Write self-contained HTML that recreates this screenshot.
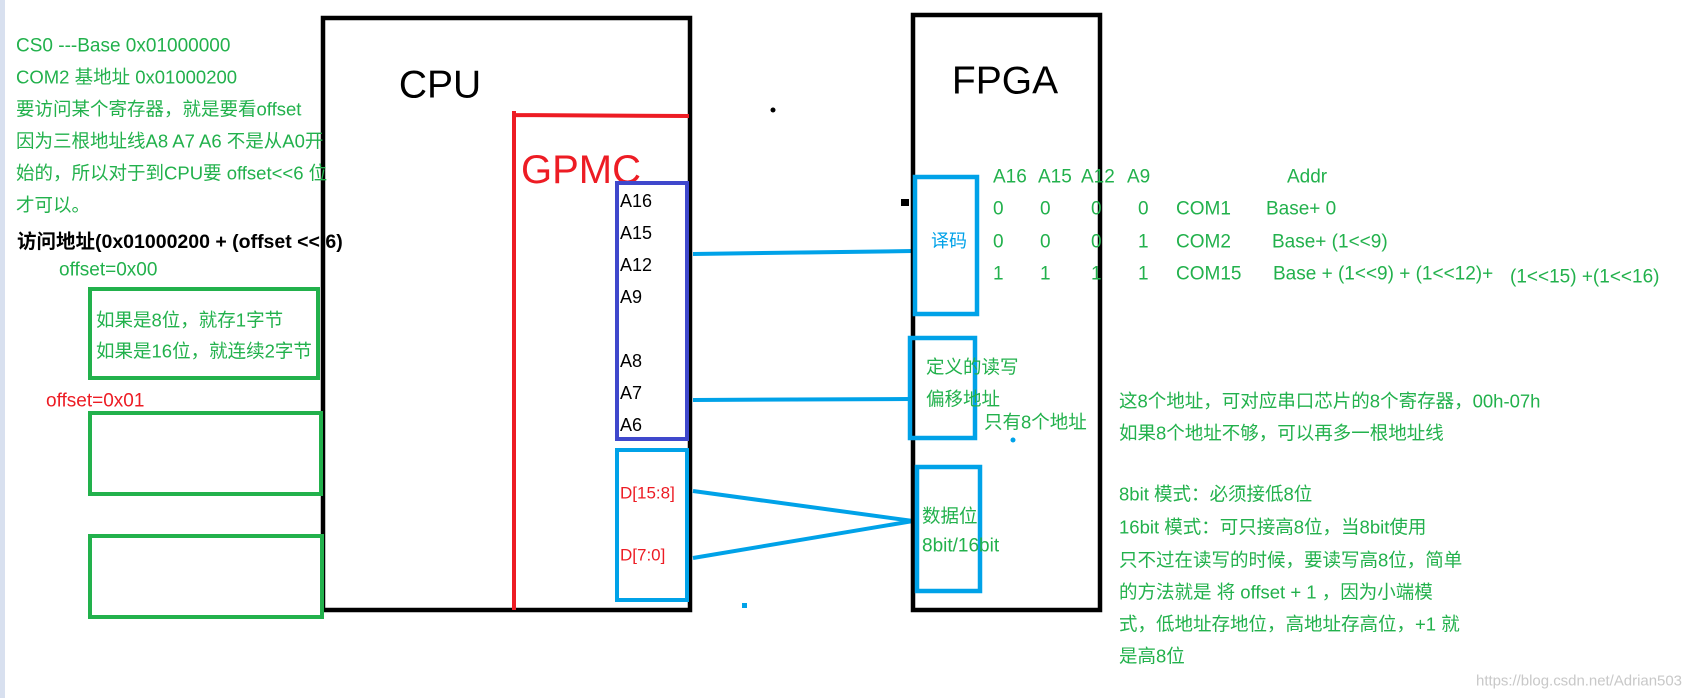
<!DOCTYPE html>
<html><head><meta charset="utf-8"><style>
html,body{margin:0;padding:0;background:#fff;}
svg{display:block;}
text{font-family:"Liberation Sans","Noto Sans CJK SC",sans-serif;dominant-baseline:central;}
.g{fill:#22b14c;font-size:18.5px;}
.gl{fill:#22b14c;font-size:19px;}
.k{fill:#000;font-size:18px;}
.r{fill:#ed1c24;font-size:17px;}
</style></head><body>
<svg width="1692" height="698" viewBox="0 0 1692 698" xmlns="http://www.w3.org/2000/svg">
<rect x="0" y="0" width="5" height="698" fill="#d8e0ef"/>
<rect x="323" y="18" width="367" height="592" fill="none" stroke="#000" stroke-width="4.5"/>
<text x="440" y="85" font-size="39" text-anchor="middle" fill="#000">CPU</text>
<path d="M514 111 L514 610 M514 115 L689 116" stroke="#ed1c24" stroke-width="4" fill="none"/>
<text x="521" y="170" font-size="40" fill="#ed1c24">GPMC</text>
<rect x="617" y="183" width="70" height="256" fill="none" stroke="#3f48cc" stroke-width="4"/>
<text class="k" x="620" y="201">A16</text>
<text class="k" x="620" y="233">A15</text>
<text class="k" x="620" y="265">A12</text>
<text class="k" x="620" y="297">A9</text>
<text class="k" x="620" y="361">A8</text>
<text class="k" x="620" y="393">A7</text>
<text class="k" x="620" y="425">A6</text>
<rect x="617" y="450" width="70" height="150" fill="none" stroke="#00a2e8" stroke-width="4"/>
<text class="r" x="620" y="493">D[15:8]</text>
<text class="r" x="620" y="555">D[7:0]</text>
<g stroke="#00a2e8" stroke-width="4" fill="none">
<path d="M693 254 L913 251"/>
<path d="M693 400 L911 399"/>
<path d="M693 491 L913 521"/>
<path d="M693 558 L913 521"/>
</g>
<rect x="742" y="603" width="5" height="5" fill="#00a2e8"/>
<circle cx="773" cy="110" r="2.5" fill="#000"/>
<rect x="913" y="15" width="187" height="595" fill="none" stroke="#000" stroke-width="4.5"/>
<rect x="901" y="199" width="8" height="7" fill="#000"/>
<text x="1005" y="81" font-size="39" text-anchor="middle" fill="#000">FPGA</text>
<rect x="915" y="177" width="62" height="137" fill="none" stroke="#00a2e8" stroke-width="4.5"/>
<text x="949" y="241" font-size="18" fill="#00a2e8" text-anchor="middle">译码</text>
<rect x="910" y="338" width="65" height="100" fill="none" stroke="#00a2e8" stroke-width="4.5"/>
<text class="g" x="926" y="367">定义的读写</text>
<text class="g" x="926" y="399">偏移地址</text>
<text class="g" x="984" y="422">只有8个地址</text>
<circle cx="1013" cy="440" r="2.5" fill="#00a2e8"/>
<rect x="917" y="467" width="63" height="124" fill="none" stroke="#00a2e8" stroke-width="4.5"/>
<text class="g" x="922" y="516">数据位</text>
<text class="gl" x="922" y="546">8bit/16bit</text>
<text class="gl" x="993" y="177">A16</text><text class="gl" x="1038" y="177">A15</text><text class="gl" x="1081" y="177">A12</text><text class="gl" x="1127" y="177">A9</text><text class="gl" x="1287" y="177">Addr</text>
<text class="gl" x="993" y="209">0</text><text class="gl" x="1040" y="209">0</text><text class="gl" x="1091" y="209">0</text><text class="gl" x="1138" y="209">0</text><text class="gl" x="1176" y="209">COM1</text><text class="gl" x="1266" y="209">Base+ 0</text>
<text class="gl" x="993" y="242">0</text><text class="gl" x="1040" y="242">0</text><text class="gl" x="1091" y="242">0</text><text class="gl" x="1138" y="242">1</text><text class="gl" x="1176" y="242">COM2</text><text class="gl" x="1272" y="242">Base+ (1&lt;&lt;9)</text>
<text class="gl" x="993" y="274">1</text><text class="gl" x="1040" y="274">1</text><text class="gl" x="1091" y="274">1</text><text class="gl" x="1138" y="274">1</text><text class="gl" x="1176" y="274">COM15</text><text class="gl" x="1273" y="274">Base + (1&lt;&lt;9) + (1&lt;&lt;12)+</text>
<text class="gl" x="1510" y="277">(1&lt;&lt;15) +(1&lt;&lt;16)</text>
<text class="gl" x="16" y="46">CS0 ---Base 0x01000000</text>
<text class="g" x="16" y="77">COM2 基地址 0x01000200</text>
<text class="g" x="16" y="109">要访问某个寄存器，就是要看offset</text>
<text class="g" x="16" y="141">因为三根地址线A8 A7 A6 不是从A0开</text>
<text class="g" x="16" y="173">始的，所以对于到CPU要 offset&lt;&lt;6 位</text>
<text class="g" x="16" y="205">才可以。</text>
<text x="17" y="242" font-size="19.5" font-weight="bold" fill="#000">访问地址(0x01000200 + (offset &lt;&lt; 6)</text>
<text class="gl" x="59" y="270">offset=0x00</text>
<rect x="90" y="289" width="228" height="89" fill="none" stroke="#22b14c" stroke-width="4"/>
<text class="g" x="96" y="320">如果是8位，就存1字节</text>
<text class="g" x="96" y="351">如果是16位，就连续2字节</text>
<text x="46" y="401" style="fill:#ed1c24;font-size:19px">offset=0x01</text>
<rect x="90" y="413" width="231" height="81" fill="none" stroke="#22b14c" stroke-width="4"/>
<rect x="90" y="536" width="232" height="81" fill="none" stroke="#22b14c" stroke-width="4"/>
<text class="g" x="1119" y="401">这8个地址，可对应串口芯片的8个寄存器，00h-07h</text>
<text class="g" x="1119" y="433">如果8个地址不够，可以再多一根地址线</text>
<text class="g" x="1119" y="494">8bit 模式：必须接低8位</text>
<text class="g" x="1119" y="527">16bit 模式：可只接高8位，当8bit使用</text>
<text class="g" x="1119" y="560">只不过在读写的时候，要读写高8位，简单</text>
<text class="g" x="1119" y="592">的方法就是 将 offset + 1 ，因为小端模</text>
<text class="g" x="1119" y="624">式，低地址存地位，高地址存高位，+1 就</text>
<text class="g" x="1119" y="656">是高8位</text>
<text x="1476" y="681" style="font-size:15px;fill:#c8c8c8" textLength="206">https://blog.csdn.net/Adrian503</text>
</svg>
</body></html>
